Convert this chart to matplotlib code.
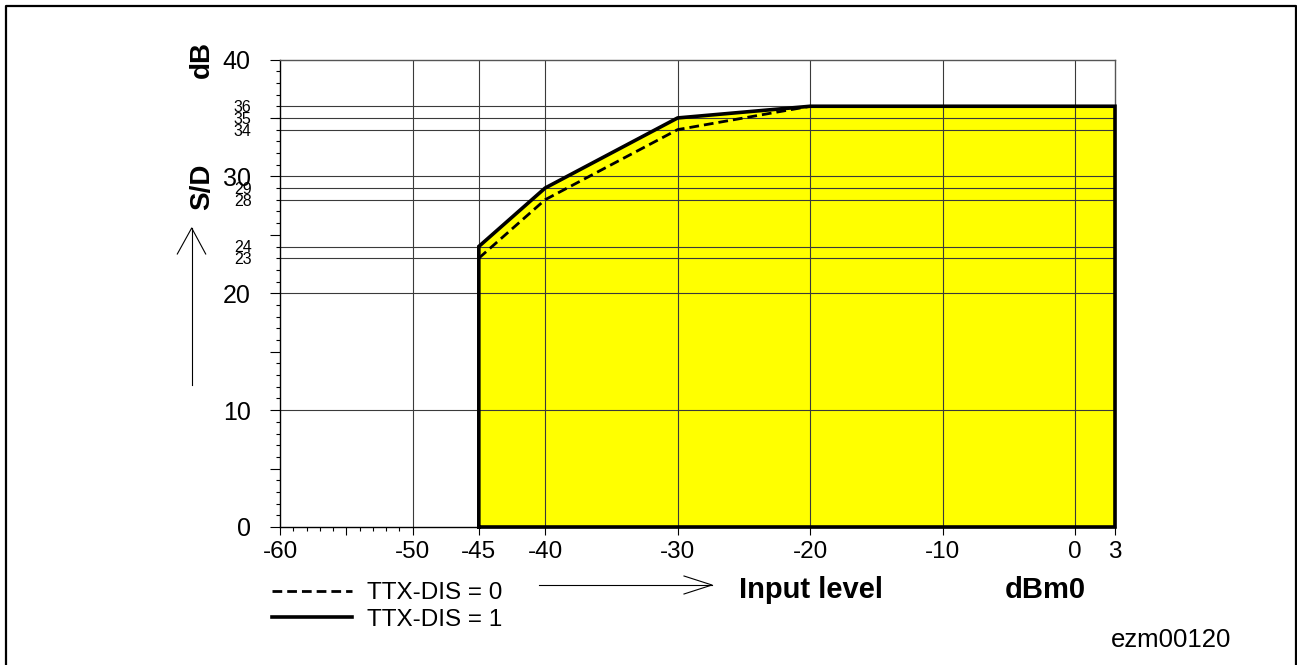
import matplotlib
matplotlib.use("Agg")
import matplotlib.pyplot as plt
from matplotlib.lines import Line2D

plt.rcParams['font.family'] = ['Liberation Sans', 'DejaVu Sans']

# ---- data ----
x_ttx1 = [-45, -45, -40, -30, -20, 3, 3]
y_ttx1 = [0, 24, 29, 35, 36, 36, 0]
x_ttx0 = [-45, -40, -30, -20]
y_ttx0 = [23, 28, 34, 36]
labels_legend = ["TTX-DIS = 0", "TTX-DIS = 1"]

x_major = [-60, -55, -50, -45, -40, -30, -20, -10, 0, 3]
x_major_labels = ['-60', '', '-50', '-45', '-40', '-30', '-20', '-10', '0', '3']
x_minor = [-59, -58, -57, -56, -54, -53, -52, -51]

y_major = [0, 5, 10, 15, 20, 25, 30, 35, 40]
y_major_labels = ['0', '', '10', '', '20', '', '30', '', '40']
y_minor = [v for v in range(1, 40) if v % 5 != 0] + [35]
y_minor_named = {23: '23', 24: '24', 28: '28', 29: '29', 34: '34', 35: '35', 36: '36'}

grid_y = [10, 20, 23, 24, 28, 29, 30, 34, 35, 36]
grid_x = [-50, -45, -40, -30, -20, -10, 0]

W, H = 1297, 665
fig = plt.figure(figsize=(W / 100, H / 100), dpi=100)
ax = fig.add_axes([280 / W, 1 - 527 / H, (1115 - 280) / W, (527 - 59.5) / H])
ax.set_xlim(-60, 3)
ax.set_ylim(0, 40)

# fill
ax.fill(x_ttx1, y_ttx1, color='#ffff00', lw=0, zorder=1)

# grid lines
for gy in grid_y:
    ax.axhline(gy, color='#3a3a3a', lw=0.8, zorder=2)
for gx in grid_x:
    ax.axvline(gx, color='#3a3a3a', lw=0.8, zorder=2)

# curves
solid, = ax.plot(x_ttx1 + [x_ttx1[0]], y_ttx1 + [y_ttx1[0]], color='black', lw=2.6,
                 solid_joinstyle='miter', zorder=4, clip_on=False)
dashed, = ax.plot(x_ttx0, y_ttx0, color='black', lw=2.0, linestyle=(0, (3.5, 1.8)), zorder=3)

# spines
for s in ['left', 'bottom']:
    ax.spines[s].set_color('black')
    ax.spines[s].set_linewidth(1.0)
for s in ['top', 'right']:
    ax.spines[s].set_color('#555555')
    ax.spines[s].set_linewidth(1.0)

# ticks
ax.set_xticks(x_major, labels=x_major_labels, fontsize=17.5)
ax.set_xticks(x_minor, minor=True)
ax.tick_params(axis='x', which='major', direction='out', length=5.8, width=0.8, pad=4)
ax.tick_params(axis='x', which='minor', direction='out', length=2.8, width=0.8)

ax.yaxis.remove_overlapping_locs = False
ax.set_yticks(y_major, labels=y_major_labels, fontsize=18)
ax.set_yticks(y_minor, labels=[y_minor_named.get(v, '') for v in y_minor], minor=True, fontsize=11.5)
ax.tick_params(axis='y', which='major', direction='out', length=7.5, width=0.8, pad=13.5)
ax.tick_params(axis='y', which='minor', direction='out', length=3.0, width=0.8, pad=17.5)

# axis titles
fig.text(202 / W, 1 - 60 / H, 'dB', rotation=90, fontsize=20, fontweight='bold', ha='center', va='center')
fig.text(202 / W, 1 - 187 / H, 'S/D', rotation=90, fontsize=20, fontweight='bold', ha='center', va='center')
fig.text(811 / W, 1 - 590 / H, 'Input level', fontsize=21, fontweight='bold', ha='center', va='center')
fig.text(1045 / W, 1 - 590 / H, 'dBm0', fontsize=21, fontweight='bold', ha='center', va='center')
fig.text(1171 / W, 1 - 640 / H, 'ezm00120', fontsize=18.5, ha='center', va='center')

# arrows (open V heads)
def fline(xs, ys, lw=0.8):
    fig.add_artist(Line2D([x / W for x in xs], [1 - y / H for y in ys],
                          transform=fig.transFigure, color='black', lw=lw))

fline([191.7, 191.7], [385, 228])
fline([177.3, 191.7, 205.7], [254, 228, 254])
fline([539, 712], [585, 585])
fline([684, 712, 684], [576, 585, 594])

# figure border (left, top, right)
fline([6, 6, 1295.5, 1295.5], [700, 6, 6, 700], lw=1.6)

# legend
leg = ax.legend([dashed, solid], labels_legend, loc='upper left',
                bbox_to_anchor=(272 / W, 1 - 582 / H), bbox_transform=fig.transFigure,
                frameon=False, fontsize=17.5, handlelength=3.3, handletextpad=0.6,
                borderpad=0, borderaxespad=0, labelspacing=0.2)

fig.savefig('out.png', dpi=100)
